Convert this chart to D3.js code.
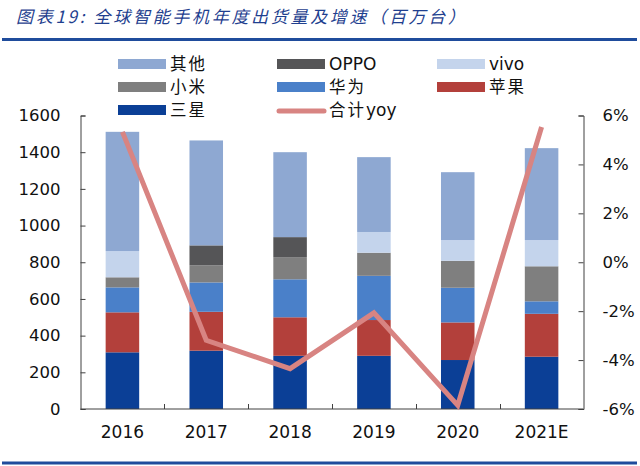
<!DOCTYPE html>
<html><head><meta charset="utf-8">
<script src="https://cdn.jsdelivr.net/npm/d3@7/dist/d3.min.js"></script>
<style>
html,body{margin:0;padding:0;background:#fff;}
svg{display:block;}
</style></head>
<body>
<svg id="chart" width="640" height="466"></svg>
<script>
const years = ["2016","2017","2018","2019","2020","2021E"];
const samsung = [309, 318, 290, 290, 267, 285];
const apple   = [218, 212, 210, 195, 205, 234];
const huawei  = [136, 160, 207, 241, 189, 68];
const xiaomi  = [55, 93, 121, 126, 147, 191];
const oppo    = [0, 109, 109, 0, 0, 0];
const vivo    = [143, 0, 0, 113, 113, 143];
const others  = [650, 572, 463, 408, 370, 501];
const yoy     = [5.33, -3.19, -4.35, -2.07, -5.85, 5.53];
const leftTicks = [0, 200, 400, 600, 800, 1000, 1200, 1400, 1600];
const rightTicks = [-6, -4, -2, 0, 2, 4, 6];
const titleText = "图表19:  全球智能手机年度出货量及增速（百万台）";

const seriesNames = ["三星","苹果","华为","小米","OPPO","vivo","其他"];
const seriesData = [samsung, apple, huawei, xiaomi, oppo, vivo, others];
const colors = {"三星":"#0b3f96","苹果":"#b3403b","华为":"#4a80c9","小米":"#7f7f7f","OPPO":"#555557","vivo":"#c4d4ec","其他":"#8ea8d2"};
const lineColor = "#d88482";

const svg = d3.select("#chart");
const cjk = "'Noto Sans CJK SC', sans-serif";
const latin = "'DejaVu Sans', sans-serif";

// title
svg.append("text").attr("x",16).attr("y",23)
  .attr("font-family",cjk).attr("font-size",17).attr("font-style","italic")
  .attr("fill","#1f3f8f").attr("textLength",449).attr("lengthAdjust","spacing")
  .text(titleText);
svg.append("line").attr("x1",2).attr("x2",637).attr("y1",39.5).attr("y2",39.5)
  .attr("stroke","#1f4c9c").attr("stroke-width",3);
svg.append("line").attr("x1",2).attr("x2",637).attr("y1",463).attr("y2",463)
  .attr("stroke","#1f4c9c").attr("stroke-width",3);

// scales
const x = d3.scaleBand().domain(years).range([80.5,583.5]).paddingInner(0.6).paddingOuter(0.3);
const y = d3.scaleLinear().domain([0,1600]).range([409,115.5]);
const y2 = d3.scaleLinear().domain([-6,6]).range([409,115.5]);

// stacked data
const table = years.map((yr,i)=>{const o={year:yr}; seriesNames.forEach((n,k)=>o[n]=seriesData[k][i]); return o;});
const stack = d3.stack().keys(seriesNames)(table);

svg.append("g").selectAll("g").data(stack).join("g")
  .attr("fill",d=>colors[d.key])
  .selectAll("rect").data(d=>d).join("rect")
  .attr("x",d=>x(d.data.year)).attr("width",x.bandwidth())
  .attr("y",d=>y(d[1])).attr("height",d=>y(d[0])-y(d[1]));

// axes
const axisColor = "#404040";
const gl = svg.append("g").attr("transform","translate(80.5,0)")
  .call(d3.axisLeft(y).tickValues(leftTicks).tickSize(-5).tickPadding(20).tickFormat(d3.format("d")));
const gr = svg.append("g").attr("transform","translate(583.5,0)")
  .call(d3.axisRight(y2).tickValues(rightTicks).tickSize(-5).tickPadding(19).tickFormat(d=>d+"%"));
[gl,gr].forEach(g=>{
  g.select(".domain").attr("stroke",axisColor);
  g.selectAll(".tick line").attr("stroke",axisColor);
  g.selectAll(".tick text").attr("font-family",latin).attr("font-size",16.5).attr("fill","#111");
});

const gb = svg.append("g").attr("transform","translate(0,409)")
  .call(d3.axisBottom(x).tickSize(0).tickPadding(17));
gb.select(".domain").remove();
gb.selectAll(".tick text").attr("font-family",latin).attr("font-size",17).attr("fill","#111");
svg.append("line").attr("x1",80.5).attr("x2",583.5).attr("y1",409).attr("y2",409).attr("stroke",axisColor);
svg.append("g").selectAll("line").data(years.slice(1)).join("line")
  .attr("x1",d=>Math.round(x(d)+x.bandwidth()/2-x.step()/2)+0.5)
  .attr("x2",d=>Math.round(x(d)+x.bandwidth()/2-x.step()/2)+0.5)
  .attr("y1",409).attr("y2",404).attr("stroke",axisColor);

// yoy line
const line = d3.line().x((d,i)=>x(years[i])+x.bandwidth()/2).y(d=>y2(d));
svg.append("path").datum(yoy).attr("d",line).attr("fill","none")
  .attr("stroke",lineColor).attr("stroke-width",5).attr("stroke-linejoin","miter");

// legend
const legendItems = [
  {name:"其他",col:0,row:0},{name:"OPPO",col:1,row:0},{name:"vivo",col:2,row:0},
  {name:"小米",col:0,row:1},{name:"华为",col:1,row:1},{name:"苹果",col:2,row:1},
  {name:"三星",col:0,row:2},{name:"合计yoy",col:1,row:2,line:true}
];
const colX = [118,277,437];
const rowY = [64,87,110];
const lg = svg.append("g");
legendItems.forEach(it=>{
  const gx = colX[it.col], gy = rowY[it.row];
  if(it.line){
    lg.append("line").attr("x1",gx+2).attr("x2",gx+47).attr("y1",gy+1).attr("y2",gy+1)
      .attr("stroke",lineColor).attr("stroke-width",5).attr("stroke-linecap","round");
  } else {
    lg.append("rect").attr("x",gx).attr("y",gy-5).attr("width",48).attr("height",10).attr("fill",colors[it.name]);
  }
  const t = lg.append("text").attr("x",gx+52).attr("y",gy+6).attr("fill","#111");
  const parts = it.name.match(/[A-Za-z]+|[^A-Za-z]+/g);
  parts.forEach(p=>{
    const isLatin = /^[A-Za-z]+$/.test(p);
    t.append("tspan").attr("font-family", isLatin ? latin : cjk)
      .attr("font-size", isLatin ? 17 : 16.5)
      .attr("letter-spacing", isLatin ? 0 : 2)
      .text(p);
  });
});
</script>
</body></html>
